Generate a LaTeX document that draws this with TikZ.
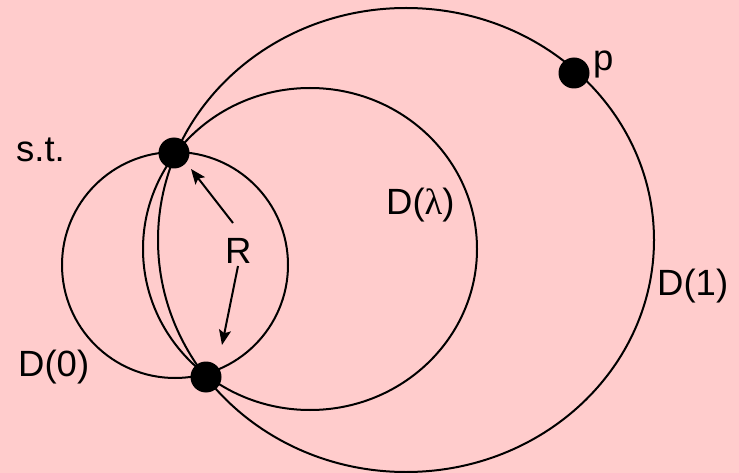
\documentclass[tikz,border=0pt]{standalone}
\usepackage{fontspec}
\setmainfont{Liberation Sans}
\newfontfamily\lamfont{Liberation Serif}
\usetikzlibrary{arrows.meta}
\definecolor{bgpink}{RGB}{255,204,204}
\begin{document}
\begin{tikzpicture}[x=1pt,y=-1pt,
  curve/.style={line width=2pt,black},
  dot/.style={circle,fill=black,minimum size=31pt,inner sep=0pt},
  lbl/.style={anchor=base west,inner sep=0pt,font=\fontsize{36.5}{40}\selectfont},
  arr/.style={line width=2pt,-{Stealth[length=15pt,width=12pt,inset=3pt]}}]
\fill[bgpink] (0,0) rectangle (739,473);
\useasboundingbox (0,0) rectangle (739,473);
% circles
\draw[curve] (175,265) ellipse [x radius=113pt, y radius=113pt];
\draw[curve] (310,249) ellipse [x radius=167pt, y radius=161pt];
\draw[curve] (406,240) ellipse [x radius=248pt, y radius=232pt];
% points
\node[dot] (s) at (174,153) {};
\node[dot] (t) at (206,377) {};
\node[dot] (p) at (574,73) {};
% labels
\node[lbl] (st) at (16,162) {s.t.};
\node[lbl] (d0) at (18,376) {D(0)};
\node[lbl] (dl) at (386,215) {D({\lamfont λ})};
\node[lbl] (d1) at (657,295) {D(1)};
\node[lbl] (pl) at (593,71) {p};
\node[lbl] (R) at (225,263) {R};
% arrows
\coordinate (r1) at (233,223);
\coordinate (r2) at (238,266);
\coordinate (a1) at (191,169);
\coordinate (a2) at (222,345);
\draw[arr] (r1) -- (a1);
\draw[arr] (r2) -- (a2);
\end{tikzpicture}
\end{document}
